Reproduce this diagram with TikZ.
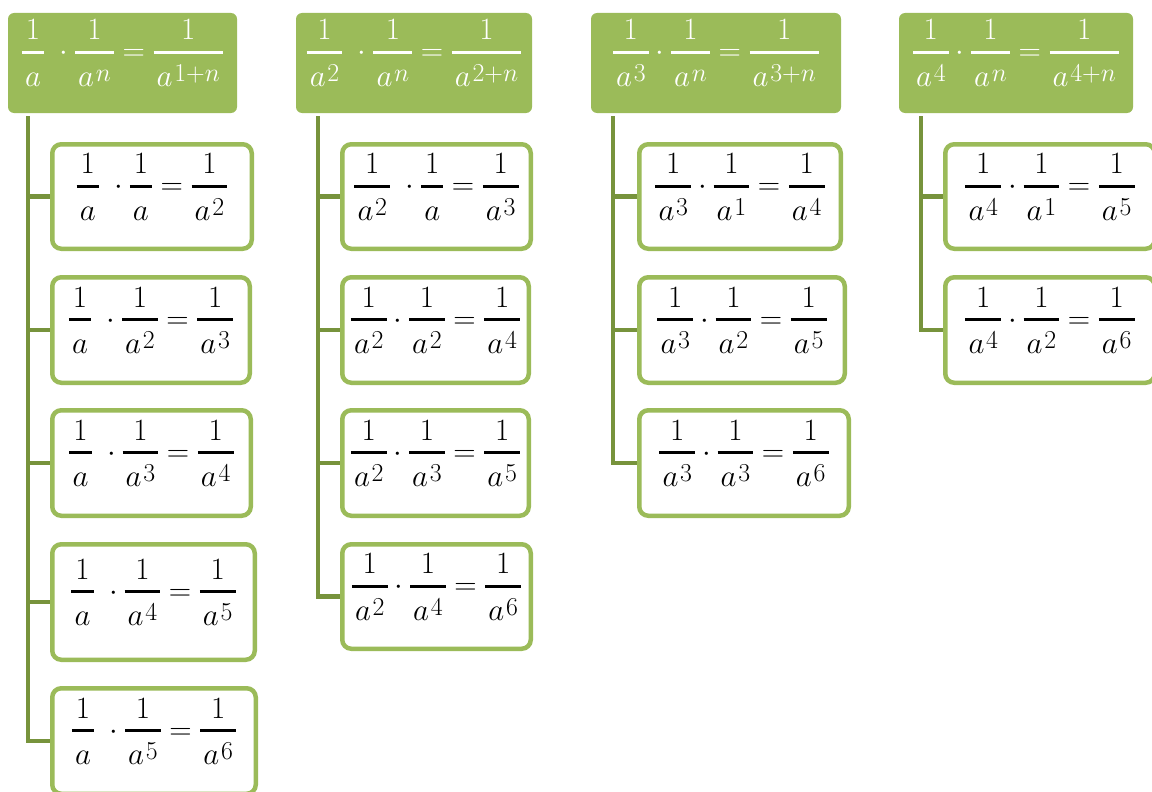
\documentclass[tikz,border=0pt]{standalone}
\usepackage{amsmath}
\usepackage{graphicx}
\definecolor{hdrfill}{HTML}{9BBB59}
\definecolor{boxline}{HTML}{9BBB59}
\definecolor{connline}{HTML}{77933C}
\pgfdeclarelayer{bg}
\pgfsetlayers{bg,main}
\newcommand\ap[1]{a\mkern1mu\raise0.17em\hbox{$\scriptstyle #1$}}
\newcommand\fr[2]{\mathord{\vcenter{\offinterlineskip\halign{\hfil\kern0.1em$##$\kern0.1em\hfil\cr
  #1\cr\noalign{\kern0.355em\hrule height 0.097em\kern0.355em}\vphantom{\ap{2}}#2\cr}}}}
\newcommand\eq[1]{\scalebox{1.246}{$#1$}}
\tikzset{
  hdrbox/.style={rectangle, rounded corners=6pt, fill=hdrfill, draw=none, inner sep=0pt},
  childbox/.style={rectangle, rounded corners=9pt, draw=boxline, line width=4.5pt, fill=white, inner sep=0pt},
  eqtext/.style={inner sep=0pt, font=\Huge},
  hdrtext/.style={eqtext, text=white},
  conn/.style={draw=connline, line width=4.5pt}
}
% name, left, top, right, bottom, math
\newcommand\cbox[6]{%
  \node[childbox, minimum width={#4-#2-4.5}, minimum height={#5-#3-4.5}] (#1) at ({(#2+#4)/2},{(#3+#5)/2}) {};
  \node[eqtext] (#1t) at ([yshift=9.5pt]#1.center) {\eq{#6}};
}
\newcommand\hdrbox[6]{%
  \node[hdrbox, minimum width={#4-#2}, minimum height={#5-#3}] (#1) at ({(#2+#4)/2},{(#3+#5)/2}) {};
  \node[hdrtext] (#1t) at ([yshift=10pt]#1.center) {\eq{#6}};
}
\begin{document}
\begin{tikzpicture}[x=1pt, y=-1pt]
\useasboundingbox (0,0) rectangle (1152,792);

% headers
\hdrbox{h1}{8}{13}{237}{113}{\fr1a\;\cdot\fr1{\ap{n}}=\fr1{\ap{1+n}}}
\hdrbox{h2}{296}{13}{532}{113}{\fr1{\ap2}\;\cdot\fr1{\ap{n}}=\fr1{\ap{2+n}}}
\hdrbox{h3}{591}{13}{841}{113}{\fr1{\ap3}\cdot\fr1{\ap{n}}=\fr1{\ap{3+n}}}
\hdrbox{h4}{899}{13}{1133}{113}{\fr1{\ap4}\cdot\fr1{\ap{n}}=\fr1{\ap{4+n}}}

% column 1
\cbox{c1}{50}{142}{254}{251}{\fr1a\;\cdot\fr1a=\fr1{\ap2}}
\cbox{c2}{50}{275}{252}{385}{\fr1a\;\cdot\fr1{\ap2}=\fr1{\ap3}}
\cbox{c3}{50}{408}{253}{518}{\fr1a\;\cdot\fr1{\ap3}=\fr1{\ap4}}
\cbox{c4}{50}{542}{257}{662}{\fr1a\;\cdot\fr1{\ap4}=\fr1{\ap5}}
\cbox{c5}{50}{686}{258}{796}{\fr1a\;\cdot\fr1{\ap5}=\fr1{\ap6}}

% column 2
\cbox{d1}{340}{142}{533}{251}{\fr1{\ap2}\;\cdot\fr1a=\fr1{\ap3}}
\cbox{d2}{340}{275}{531}{385}{\fr1{\ap2}\cdot\fr1{\ap2}=\fr1{\ap4}}
\cbox{d3}{340}{408}{531}{518}{\fr1{\ap2}\cdot\fr1{\ap3}=\fr1{\ap5}}
\cbox{d4}{340}{542}{533}{651}{\fr1{\ap2}\cdot\fr1{\ap4}=\fr1{\ap6}}

% column 3
\cbox{e1}{637}{142}{843}{251}{\fr1{\ap3}\cdot\fr1{\ap1}=\fr1{\ap4}}
\cbox{e2}{637}{275}{847}{385}{\fr1{\ap3}\cdot\fr1{\ap2}=\fr1{\ap5}}
\cbox{e3}{637}{408}{851}{518}{\fr1{\ap3}\cdot\fr1{\ap3}=\fr1{\ap6}}

% column 4
\cbox{f1}{943}{142}{1157}{251}{\fr1{\ap4}\cdot\fr1{\ap1}=\fr1{\ap5}}
\cbox{f2}{943}{275}{1157}{385}{\fr1{\ap4}\cdot\fr1{\ap2}=\fr1{\ap6}}

% connector tops
\coordinate (h1s) at (28,116);
\coordinate (h2s) at (318,116);
\coordinate (h3s) at (613,116);
\coordinate (h4s) at (921,116);

\begin{pgfonlayer}{bg}
\draw[conn] (h1s) |- (c5.west);
\foreach \n in {c1,c2,c3,c4} \draw[conn] (h1s |- \n.west) -- (\n.west);
\draw[conn] (h2s) |- (d4.west);
\foreach \n in {d1,d2,d3} \draw[conn] (h2s |- \n.west) -- (\n.west);
\draw[conn] (h3s) |- (e3.west);
\foreach \n in {e1,e2} \draw[conn] (h3s |- \n.west) -- (\n.west);
\draw[conn] (h4s) |- (f2.west);
\draw[conn] (h4s |- f1.west) -- (f1.west);
\end{pgfonlayer}
\end{tikzpicture}
\end{document}
